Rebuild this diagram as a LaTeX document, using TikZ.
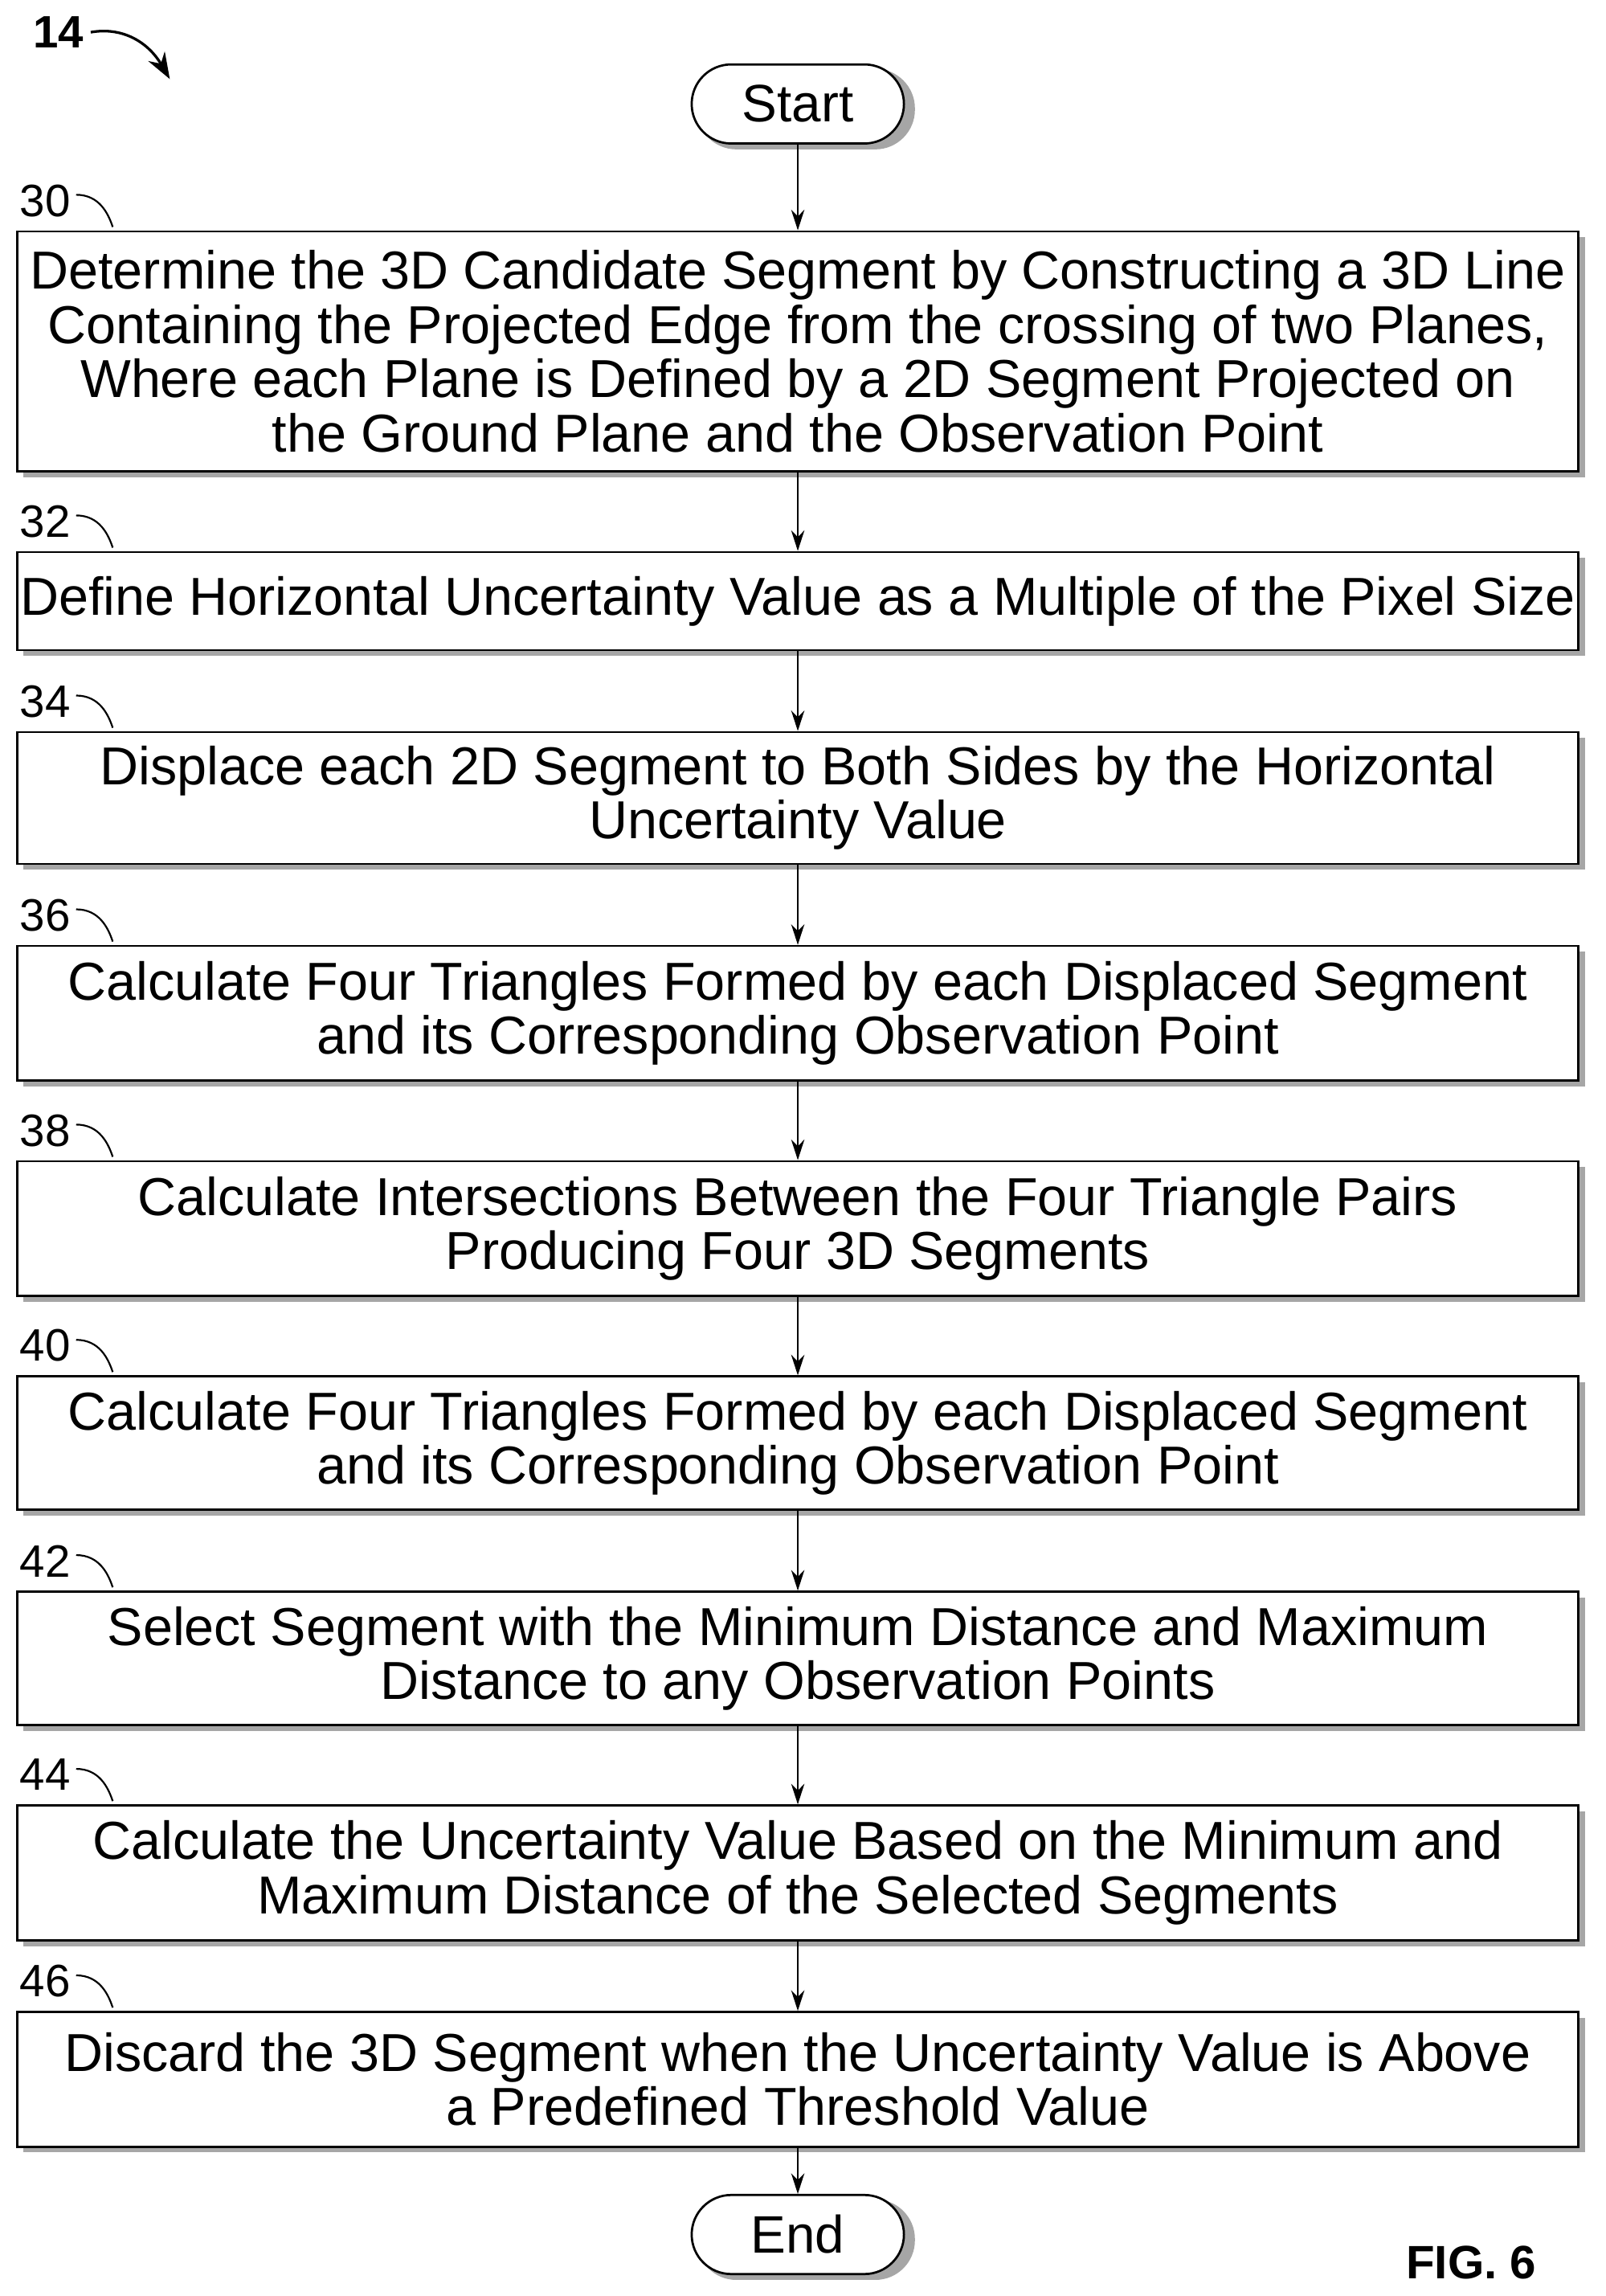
\documentclass[tikz,border=0pt]{standalone}
\usepackage{fontspec}
\setmainfont{Liberation Sans}
\usetikzlibrary{arrows.meta}
\begin{document}
\begin{tikzpicture}[x=1pt,y=-1pt,
  stepbox/.style={draw,line width=1.5pt,fill=white,minimum width=1066pt,align=center,inner sep=0pt,
    font=\fontsize{36.5}{37}\selectfont},
  term/.style={draw,line width=1.5pt,fill=white,rounded corners=27pt,minimum width=145pt,minimum height=54pt,font=\fontsize{36}{37}\selectfont},
  conn/.style={line width=1.5pt,-{Stealth[length=14pt,width=9pt]}},
  tag/.style={font=\fontsize{31}{32}\selectfont,anchor=west},
  hook/.style={line width=1.2pt}]
\useasboundingbox (0,0) rectangle (1097,1568);
\newcommand{\flowbox}[5]{% name, top, bottom, text, tag
  \fill[gray!70] (16,#2+4) rectangle (1083,#3+4);
  \node[stepbox,minimum height=#3-#2] (#1) at (545,{(#2+#3)/2}) {#4};
  \node[tag] at (10,#2-21) {#5};
  \draw[hook] (52,#2-25) .. controls (68,#2-25) and (74,#2-12) .. (77,#2-3);
}
\fill[gray!70,rounded corners=27pt] (476,47) rectangle (625,102);
\node[term] (start) at (545,71) {Start};
\flowbox{s30}{158}{322}{Determine the 3D Candidate Segment by Constructing a 3D Line\\Containing the Projected Edge from the crossing of two Planes,\\Where each Plane is Defined by a 2D Segment Projected on\\the Ground Plane and the Observation Point}{30}
\flowbox{s32}{377}{444}{Define Horizontal Uncertainty Value as a Multiple of the Pixel Size}{32}
\flowbox{s34}{500}{590}{Displace each 2D Segment to Both Sides by the Horizontal\\Uncertainty Value}{34}
\flowbox{s36}{646}{738}{Calculate Four Triangles Formed by each Displaced Segment\\and its Corresponding Observation Point}{36}
\flowbox{s38}{793}{885}{Calculate Intersections Between the Four Triangle Pairs\\Producing Four 3D Segments}{38}
\flowbox{s40}{940}{1031}{Calculate Four Triangles Formed by each Displaced Segment\\and its Corresponding Observation Point}{40}
\flowbox{s42}{1087}{1178}{Select Segment with the Minimum Distance and Maximum\\Distance to any Observation Points}{42}
\flowbox{s44}{1233}{1325}{Calculate the Uncertainty Value Based on the Minimum and\\Maximum Distance of the Selected Segments}{44}
\flowbox{s46}{1374}{1466}{Discard the 3D Segment when the Uncertainty Value is Above\\a Predefined Threshold Value}{46}
\fill[gray!70,rounded corners=27pt] (476,1502) rectangle (625,1557);
\node[term] (end) at (545,1526) {End};
\draw[conn] (start) -- (s30);
\draw[conn] (s30) -- (s32);
\draw[conn] (s32) -- (s34);
\draw[conn] (s34) -- (s36);
\draw[conn] (s36) -- (s38);
\draw[conn] (s38) -- (s40);
\draw[conn] (s40) -- (s42);
\draw[conn] (s42) -- (s44);
\draw[conn] (s44) -- (s46);
\draw[conn] (s46) -- (end);
\node[font=\fontsize{32}{32}\selectfont\bfseries] (fig) at (1005,1545) {FIG. 6};
\node[font=\fontsize{31}{32}\selectfont\bfseries] (n14) at (40,22) {14};
\coordinate (a14) at (116,54);
\draw[line width=1.8pt,-{Stealth[length=18pt,width=13pt]}] (62,22) .. controls (85,18) and (102,30) .. (a14);
\end{tikzpicture}
\end{document}
